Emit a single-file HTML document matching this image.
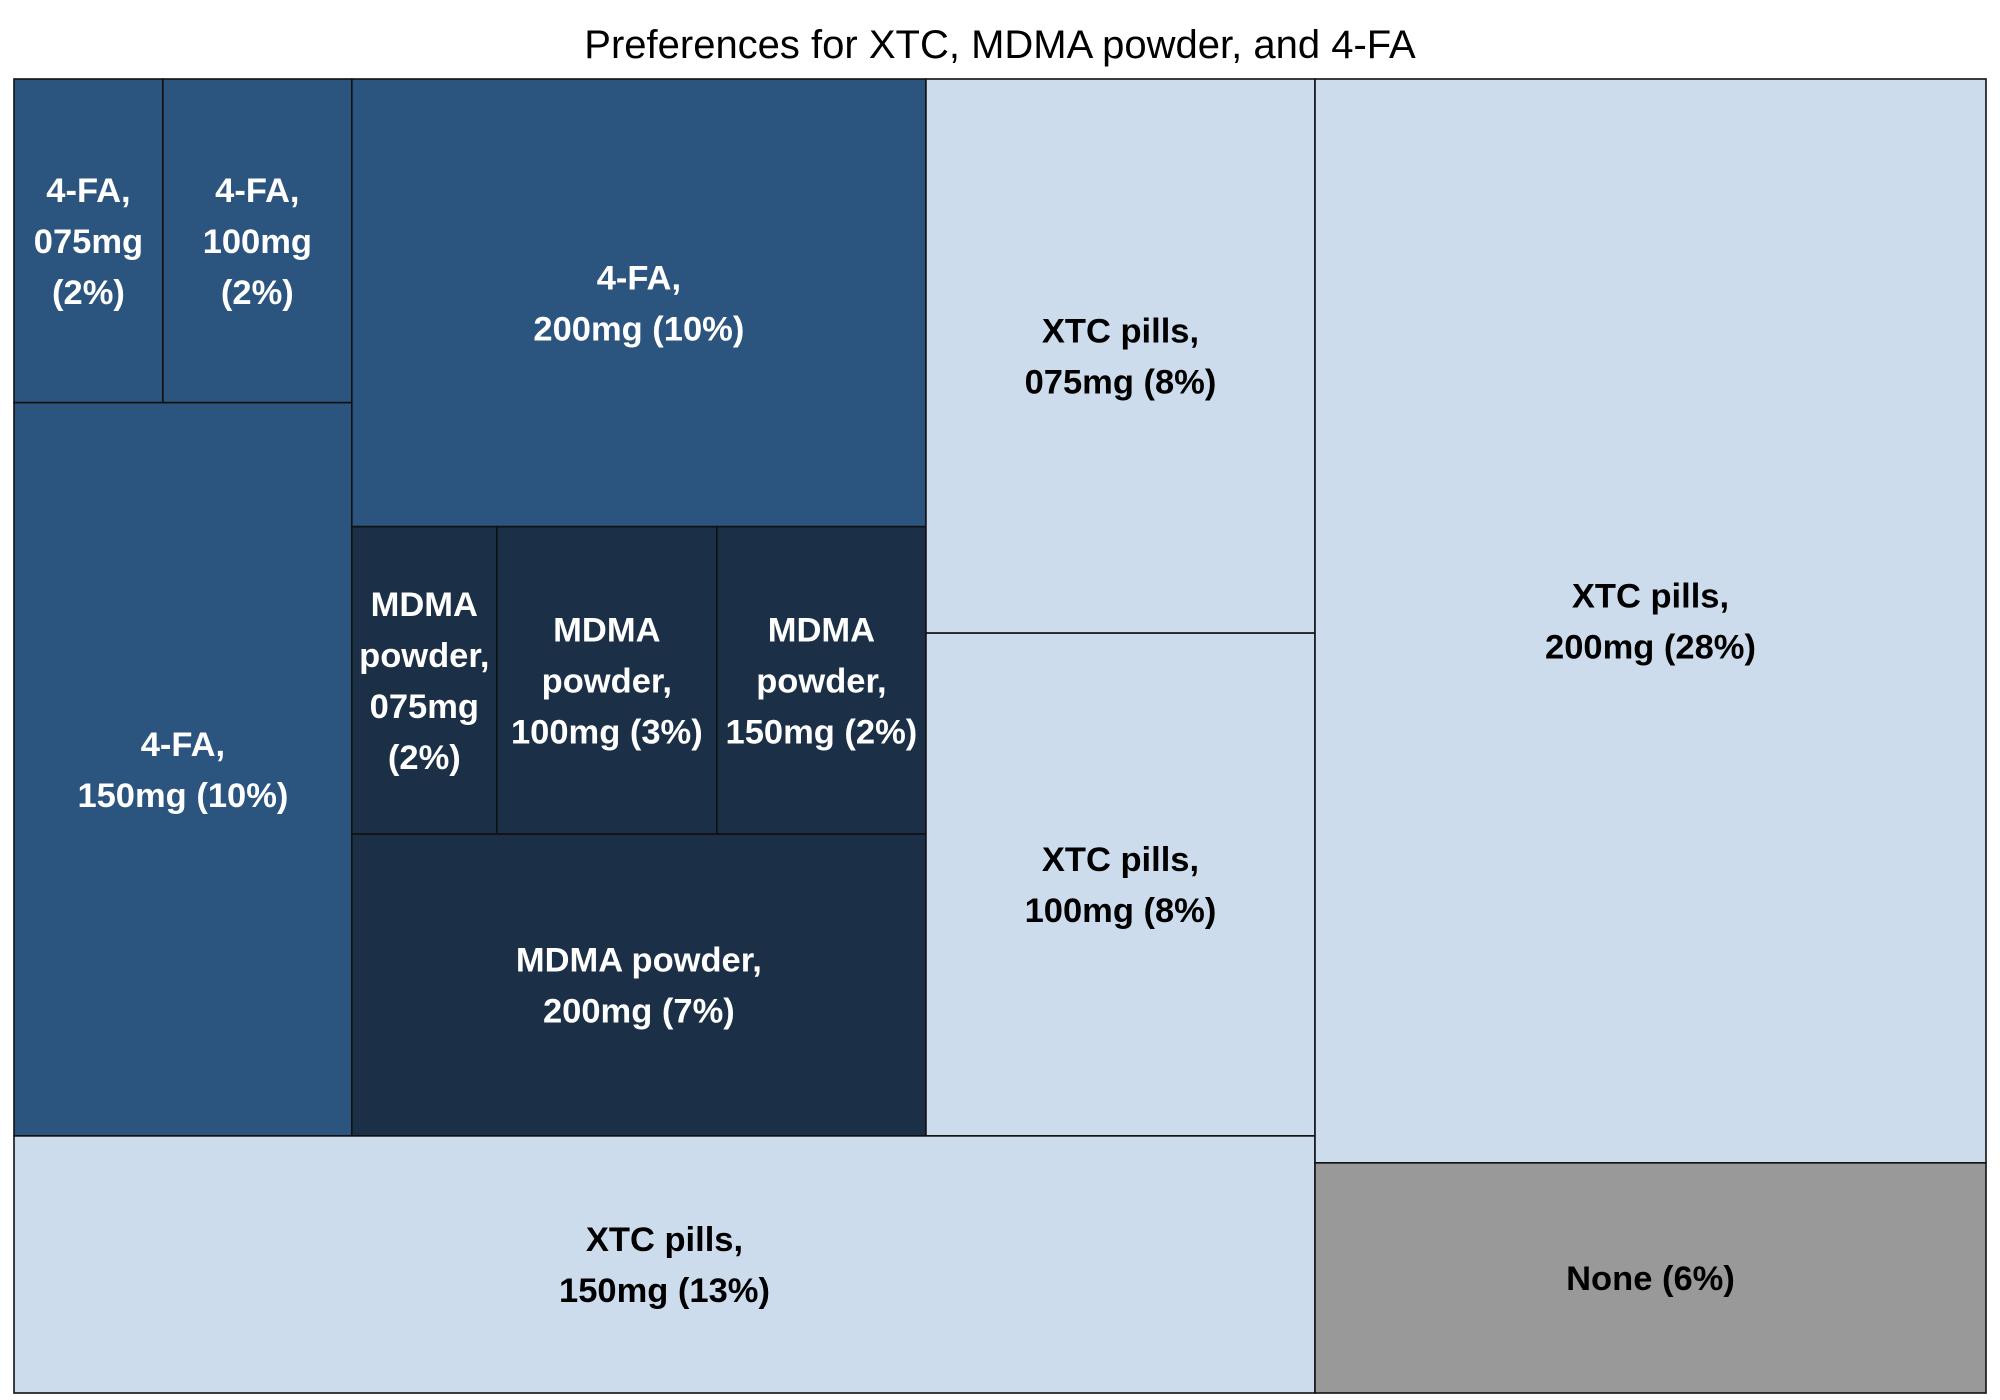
<!DOCTYPE html>
<html><head><meta charset="utf-8"><style>
html,body{margin:0;padding:0;background:#fff;width:2000px;height:1400px;overflow:hidden}
svg{display:block;font-family:"Liberation Sans",Arial,sans-serif}
</style></head><body>
<svg id="chart" width="2000" height="1400">
<text x="1000" y="58" text-anchor="middle" font-size="40" fill="#000">Preferences for XTC, MDMA powder, and 4-FA</text>
<g id="cells"></g>
</svg>
<script>
const cellKeys = ["f075","f100","f150","f200","m075","m100","m150","m200","x075","x100","x150","x200","none"];
const cellValues = [1.86,2.36,9.56,9.92,1.72,2.61,2.48,6.69,8.32,7.55,12.91,28.07,5.96];
const cellLabels = [
 ["4-FA,","075mg","(2%)"],["4-FA,","100mg","(2%)"],["4-FA,","150mg (10%)"],["4-FA,","200mg (10%)"],
 ["MDMA","powder,","075mg","(2%)"],["MDMA","powder,","100mg (3%)"],["MDMA","powder,","150mg (2%)"],["MDMA powder,","200mg (7%)"],
 ["XTC pills,","075mg (8%)"],["XTC pills,","100mg (8%)"],["XTC pills,","150mg (13%)"],["XTC pills,","200mg (28%)"],["None (6%)"]];
const cellGroups = ["4fa","4fa","4fa","4fa","mdma","mdma","mdma","mdma","xtc","xtc","xtc","xtc","none"];
const groupColors = {"4fa":"#2b557f","mdma":"#1b2f47","xtc":"#ccdcec","none":"#999999"};
const groupText = {"4fa":"#fff","mdma":"#fff","xtc":"#000","none":"#000"};

const tree = {d:"h",c:[
  {d:"v",c:[
    {d:"h",c:[
      {d:"h",c:[
        {d:"v",c:[{d:"h",c:["f075","f100"]},"f150"]},
        {d:"v",c:["f200",{d:"v",c:[{d:"h",c:["m075","m100","m150"]},"m200"]}]}
      ]},
      {d:"v",c:["x075","x100"]}
    ]},
    "x150"
  ]},
  {d:"v",c:["x200","none"]}
]};
function val(n){ if(typeof n==="string") return cellValues[cellKeys.indexOf(n)]; return n.c.reduce((s,k)=>s+val(k),0); }
const rects = {};
function layout(n,x,y,w,h){
  if(typeof n==="string"){ rects[n]={x,y,w,h}; return; }
  const t=val(n); let off=0;
  n.c.forEach(k=>{ const f=val(k)/t;
    if(n.d==="h"){ layout(k,x+off,y,w*f,h); off+=w*f; }
    else { layout(k,x,y+off,w,h*f); off+=h*f; } });
}
layout(tree,14,79,1972,1314);
const g=document.getElementById("cells");
const NS="http://www.w3.org/2000/svg";
cellKeys.forEach((k,i)=>{
  const r=rects[k], grp=cellGroups[i];
  const rect=document.createElementNS(NS,"rect");
  rect.setAttribute("x",r.x);rect.setAttribute("y",r.y);rect.setAttribute("width",r.w);rect.setAttribute("height",r.h);
  rect.setAttribute("fill",groupColors[grp]);rect.setAttribute("stroke","#111");rect.setAttribute("stroke-width","1.6");
  
  
  g.appendChild(rect);
  const lines=cellLabels[i], lh=51;
  const cx=r.x+r.w/2, cy=r.y+r.h/2;
  const t=document.createElementNS(NS,"text");
  t.setAttribute("text-anchor","middle");t.setAttribute("font-size","34.5");t.setAttribute("font-weight","bold");
  t.setAttribute("fill",groupText[grp]);
  
  
  lines.forEach((s,j)=>{
    const ts=document.createElementNS(NS,"tspan");
    ts.setAttribute("x",cx);
    ts.setAttribute("y",cy-(lines.length-1)*lh/2+j*lh+12);
    ts.textContent=s; t.appendChild(ts);
  });
  g.appendChild(t);
});
</script>
</body></html>
